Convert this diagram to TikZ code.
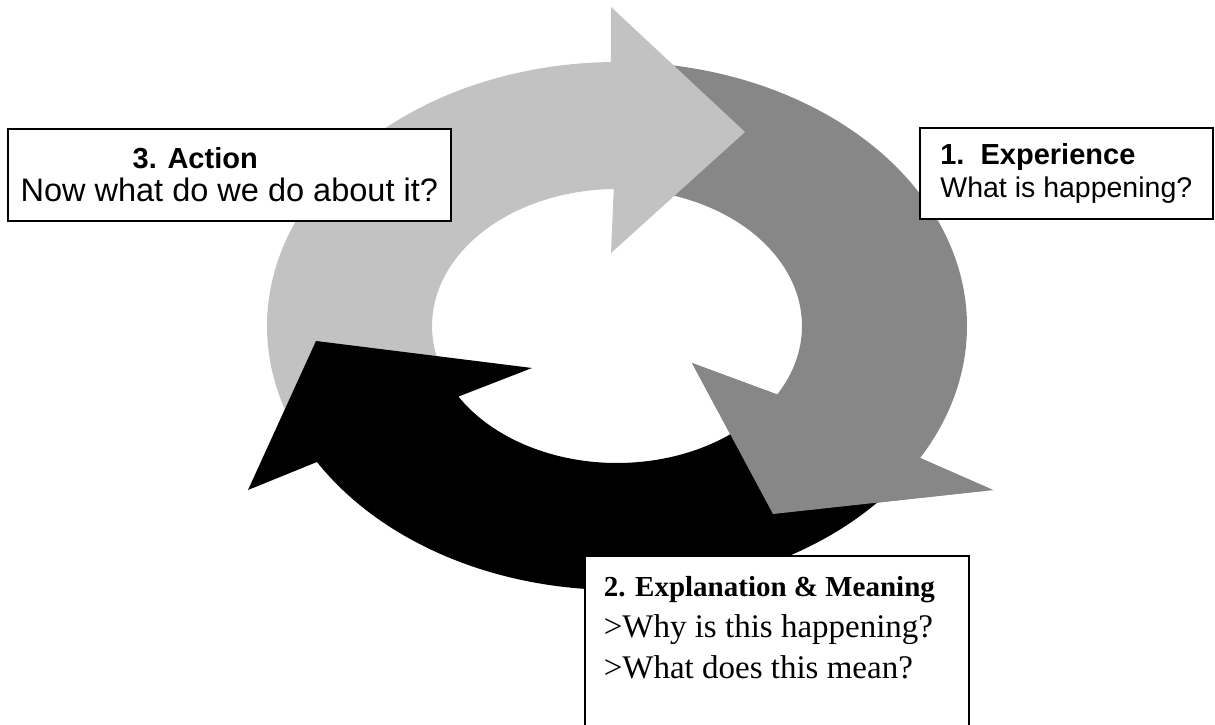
\documentclass[tikz,border=0pt]{standalone}
\usepackage{fontspec}
\setmainfont{Liberation Sans}
\newfontfamily\timesfont{Liberation Serif}
\usetikzlibrary{positioning}
\definecolor{lightgrey}{gray}{0.76}
\definecolor{darkgrey}{gray}{0.53}

\begin{document}
\begin{tikzpicture}[x=1pt,y=1pt]
    \tikzstyle{ring light}=[fill=lightgrey]
    \tikzstyle{ring dark}=[fill=darkgrey]
    \tikzstyle{ring black}=[fill=black]
    \tikzstyle{box}=[shape=rectangle,draw,fill=white,line width=1.6pt,align=left]

    \useasboundingbox (0,0) rectangle (1215,724);
    \clip (0,0) rectangle (1215,724);
    \coordinate (C) at (617,398);

    % 1. Experience
    \path[ring dark] ([shift={(85:350pt and 264pt)}]C)
      arc[start angle=85, end angle=-30, x radius=350pt, y radius=264pt]
      -- (993,234) -- (773,210) -- (692,361)
      -- ([shift={(-30:185pt and 137pt)}]C)
      arc[start angle=-30, end angle=85, x radius=185pt, y radius=137pt] -- cycle;

    % 3. Action
    \path[ring light] ([shift={(205:350pt and 264pt)}]C)
      arc[start angle=205, end angle=91, x radius=350pt, y radius=264pt]
      -- (611,717) -- (745,592) -- (611,471)
      -- ([shift={(91:185pt and 137pt)}]C)
      arc[start angle=91, end angle=205, x radius=185pt, y radius=137pt] -- cycle;

    % 2. Explanation
    \path[ring black] ([shift={(-35:350pt and 264pt)}]C)
      arc[start angle=-35, end angle=-149, x radius=350pt, y radius=264pt]
      -- (248,234) -- (316,383) -- (532,356)
      -- ([shift={(-149:185pt and 137pt)}]C)
      arc[start angle=-149, end angle=-35, x radius=185pt, y radius=137pt] -- cycle;

    % head of 1 again, over the tail of 2
    \path[ring dark] ([shift={(-30:350pt and 264pt)}]C)
      -- (993,234) -- (773,210) -- (692,361)
      -- ([shift={(-30:185pt and 137pt)}]C) -- cycle;

    \node[box, anchor=north west, minimum width=443pt, minimum height=92pt,
          font=\fontsize{32.5}{33}\selectfont] (action) at (7,596)
      {\hspace*{112pt}{\fontsize{29}{33}\selectfont\bfseries 3. Action}\\Now what do we do about it?};
    \node[box, anchor=north west, minimum width=293pt, minimum height=91pt,
          font=\fontsize{28.5}{33}\selectfont] (experience) at (919,597)
      {{\fontsize{29}{33}\selectfont\bfseries 1.\ \ Experience}\\What is happening?};
    \node[box, anchor=north west, text width=346pt, inner xsep=19pt, inner ysep=21pt,
          align=flush left, font=\timesfont\fontsize{33}{41}\selectfont] (explanation) at (584,169)
      {{\fontsize{29}{41}\selectfont\bfseries 2. Explanation \& Meaning}\\>Why is this happening?\\>What does this mean?\\~};

\end{tikzpicture}
\end{document}
